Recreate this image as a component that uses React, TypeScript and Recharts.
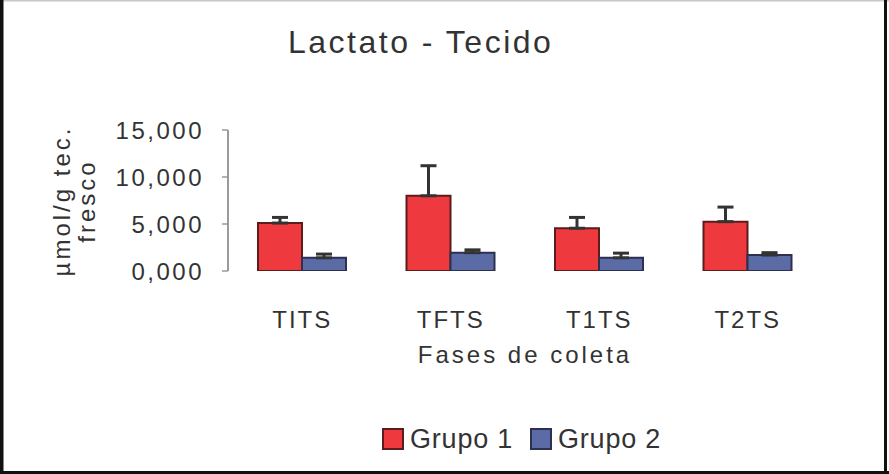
import React from 'react';
import { BarChart, Bar, XAxis, YAxis, ErrorBar, Label } from 'recharts';

const categories = ['TITS', 'TFTS', 'T1TS', 'T2TS'];
const grupo1 = [5.1, 8.0, 4.55, 5.25];
const grupo1Err = [0.6, 3.2, 1.15, 1.55];
const grupo2 = [1.4, 1.95, 1.4, 1.7];
const grupo2Err = [0.4, 0.3, 0.5, 0.25];
const yTicks = [0, 5, 10, 15];
const boundaryTicks = [0, 1, 2, 3, 4];
const seriesNames = ['Grupo 1', 'Grupo 2'];
const title = 'Lactato - Tecido';
const xTitle = 'Fases de coleta';
const yTitleLines = ['µmol/g tec.', 'fresco'];

const data = categories.map((c, i) => ({
  fase: c,
  g1: grupo1[i],
  g1e: [0, grupo1Err[i]],
  g2: grupo2[i],
  g2e: [0, grupo2Err[i]],
}));

const FONT = '"Liberation Sans", Arial, Helvetica, sans-serif';
const TEXT = '#333333';
const RED = '#EE3A3E';
const RED_STROKE = '#5a1c1c';
const BLUE = '#5A6BA6';
const BLUE_STROKE = '#2c3150';
const AXIS = '#9a9a9a';

const fmt = (v: number) => v.toFixed(3).replace('.', ',');

const XTick = (props: any) => {
  const { x, y, payload } = props;
  return (
    <text x={x} y={y} dy={0} textAnchor="middle" fill={TEXT} fontFamily={FONT} fontSize={24}
      style={{ letterSpacing: '2px' }}>
      {payload.value}
    </text>
  );
};

const YTick = (props: any) => {
  const { x, y, payload } = props;
  return (
    <text x={x} y={y + 9} textAnchor="end" fill={TEXT} fontFamily={FONT} fontSize={24}
      style={{ letterSpacing: '2.5px' }}>
      {fmt(payload.value)}
    </text>
  );
};

const YLabel = () => (
  <g>
    {yTitleLines.map((t, i) => {
      const x = 70 + i * 25;
      const y = 201;
      return (
        <text key={t} x={x} y={y} transform={`rotate(-90, ${x}, ${y})`} textAnchor="middle"
          fill={TEXT} fontFamily={FONT} fontSize={24} style={{ letterSpacing: '3px' }}>
          {t}
        </text>
      );
    })}
  </g>
);

const XLabel = () => (
  <text x={525} y={363} textAnchor="middle" fill={TEXT} fontFamily={FONT} fontSize={24}
    style={{ letterSpacing: '3px' }}>
    {xTitle}
  </text>
);

export default function App() {
  return (
    <div style={{ position: 'absolute', left: 0, top: 0, width: 889, height: 474, background: '#fff' }}>
      <BarChart
        width={889}
        height={474}
        data={data}
        margin={{ top: 130, right: 67, left: 128, bottom: 143 }}
        barGap={0}
        barSize={44}
      >
        <XAxis
          xAxisId="grid"
          type="number"
          domain={[0, 4]}
          ticks={boundaryTicks}
          allowDataOverflow
          height={0}
          axisLine={{ stroke: AXIS, strokeWidth: 2 }}
          tickLine={{ stroke: AXIS, strokeWidth: 1.5 }}
          tickSize={6}
          tickFormatter={() => ''}
        />
        <XAxis
          xAxisId="cat"
          dataKey="fase"
          height={60}
          axisLine={false}
          tickLine={false}
          tick={<XTick />}
          tickMargin={51}
          interval={0}
        >
          <Label content={<XLabel />} />
        </XAxis>
        <YAxis
          width={100}
          domain={[0, 15]}
          ticks={yTicks}
          allowDataOverflow
          axisLine={{ stroke: AXIS, strokeWidth: 2 }}
          tickLine={{ stroke: AXIS, strokeWidth: 1.5 }}
          tickSize={6}
          tickMargin={18}
          tick={<YTick />}
        >
          <Label content={<YLabel />} />
        </YAxis>
        <Bar xAxisId="cat" dataKey="g1" name={seriesNames[0]} fill={RED} stroke={RED_STROKE} strokeWidth={2} isAnimationActive={false}>
          <ErrorBar dataKey="g1e" width={8} stroke="#333" strokeWidth={3} direction="y" />
        </Bar>
        <Bar xAxisId="cat" dataKey="g2" name={seriesNames[1]} fill={BLUE} stroke={BLUE_STROKE} strokeWidth={2} isAnimationActive={false}>
          <ErrorBar dataKey="g2e" width={8} stroke="#333" strokeWidth={3} direction="y" />
        </Bar>
      </BarChart>
      <svg width={889} height={474} style={{ position: 'absolute', left: 0, top: 0, pointerEvents: 'none' }}>
        <text x={288} y={53} fill={TEXT} fontFamily={FONT} fontSize={32} style={{ letterSpacing: '2.5px' }}>
          {title}
        </text>
        <g>
          <rect x={383} y={429} width={20} height={20} fill={RED} stroke={RED_STROKE} strokeWidth={2} />
          <text x={410} y={448} fill={TEXT} fontFamily={FONT} fontSize={27} style={{ letterSpacing: '0.8px' }}>
            {seriesNames[0]}
          </text>
          <rect x={531} y={429} width={20} height={20} fill={BLUE} stroke={BLUE_STROKE} strokeWidth={2} />
          <text x={558} y={448} fill={TEXT} fontFamily={FONT} fontSize={27} style={{ letterSpacing: '0.8px' }}>
            {seriesNames[1]}
          </text>
        </g>
        <rect x={0} y={0} width={889} height={1.5} fill="#c8c8c8" />
        <rect x={0} y={0} width={3.5} height={474} fill="#111" />
        <rect x={884} y={0} width={3} height={474} fill="#111" />
        <rect x={0} y={471} width={889} height={3} fill="#111" />
      </svg>
    </div>
  );
}
